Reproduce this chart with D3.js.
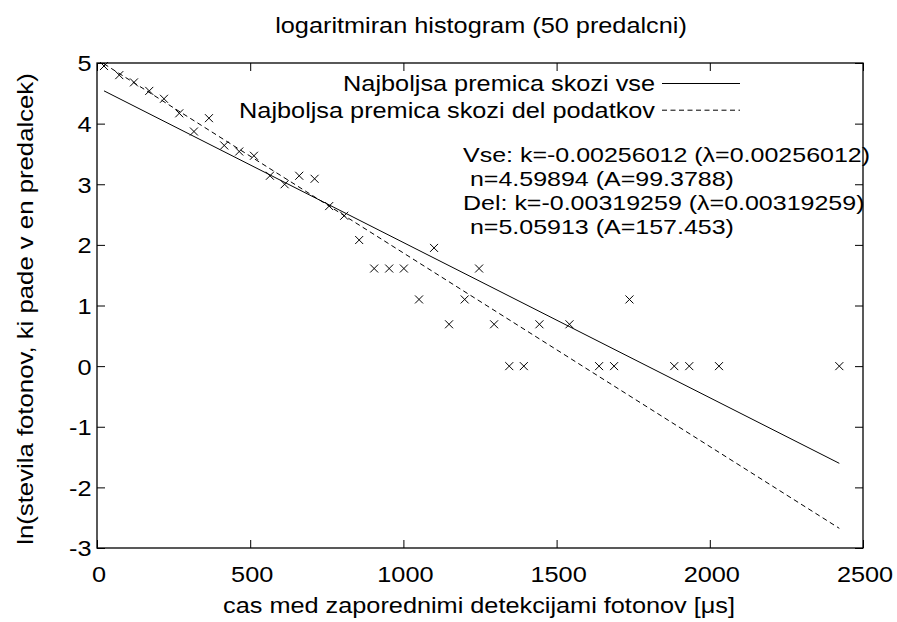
<!DOCTYPE html>
<html><head><meta charset="utf-8">
<script src="https://cdn.jsdelivr.net/npm/d3@7"></script>
<style>
body{margin:0;background:#fff;}
text{font-family:"Liberation Sans",Arial,sans-serif;fill:#000;white-space:pre;}
</style></head>
<body><svg id="c" width="897" height="622"></svg>
<script>
const binCenters = [22.8, 72.7, 120.7, 170.6, 218.6, 268.5, 316.4, 365.4, 415.3, 464.2, 512.2, 564.4, 612.4, 660, 710.2, 757.8, 806.7, 855.7, 904.6, 953.6, 1001.6, 1051, 1100, 1149, 1200, 1247, 1296, 1345.5, 1393, 1444, 1542, 1638.7, 1687.6, 1737.8, 1884, 1933, 2030, 2422.7];
const lnCounts = [4.95, 4.80, 4.68, 4.54, 4.41, 4.17, 3.87, 4.09, 3.64, 3.54, 3.47, 3.14, 3.00, 3.14, 3.09, 2.64, 2.48, 2.08, 1.61, 1.61, 1.61, 1.10, 1.95, 0.69, 1.10, 1.61, 0.69, 0, 0, 0.69, 0.69, 0, 0, 1.10, 0, 0, 0, 0];
const fitNames = ["Najboljsa premica skozi vse", "Najboljsa premica skozi del podatkov"];
const fitK = [-0.00256012, -0.00319259];
const fitN = [4.59894, 5.05913];
const xTicks = [0, 500, 1000, 1500, 2000, 2500];
const yTicks = [-3, -2, -1, 0, 1, 2, 3, 4, 5];
const noteLines = ["Vse: k=-0.00256012 (λ=0.00256012)", " n=4.59894 (A=99.3788)", "Del: k=-0.00319259 (λ=0.00319259)", " n=5.05913 (A=157.453)"];
const titleText = "logaritmiran histogram (50 predalcni)";
const xLabel = "cas med zaporednimi detekcijami fotonov [μs]";
const yLabel = "ln(stevila fotonov, ki pade v en predalcek)";

const FS = 22, SX = 1.15;
const NFS = 21, NSX = 1.19;
const svg = d3.select("#c");
const L = 97, R = 863, T = 63, B = 548;
const x = d3.scaleLinear().domain([0, 2500]).range([L, R]);
const y = d3.scaleLinear().domain([-3, 5]).range([B, T]);

function txt(px, py, str, anchor, fs, sx, rot) {
  return svg.append("text")
    .attr("transform", `translate(${px},${py})` + (rot ? ` rotate(${rot})` : "") + ` scale(${sx},1)`)
    .attr("text-anchor", anchor).attr("font-size", fs).text(str);
}

// axes (ticks inward, mirrored)
const tk = 8;
const fmt = d => String(d);
svg.append("g").attr("transform", `translate(0,${B})`).call(d3.axisBottom(x).tickValues(xTicks).tickSizeInner(-tk).tickSizeOuter(0).tickFormat(fmt))
  .call(g => { g.select(".domain").remove(); g.selectAll("line").attr("stroke", "#000");
    g.selectAll("text").attr("font-size", FS).attr("font-family", "Liberation Sans").attr("y", 0).attr("dy", 0)
      .attr("transform", `translate(1.5,34) scale(${SX},1)`); });
svg.append("g").attr("transform", `translate(0,${T})`).call(d3.axisTop(x).tickValues(xTicks).tickSizeInner(-tk).tickSizeOuter(0).tickFormat(""))
  .call(g => { g.select(".domain").remove(); g.selectAll("line").attr("stroke", "#000"); });
svg.append("g").attr("transform", `translate(${L},0)`).call(d3.axisLeft(y).tickValues(yTicks).tickSizeInner(-tk).tickSizeOuter(0).tickFormat(fmt))
  .call(g => { g.select(".domain").remove(); g.selectAll("line").attr("stroke", "#000");
    g.selectAll("text").attr("font-size", FS).attr("font-family", "Liberation Sans").attr("x", 0).attr("dy", "0.36em")
      .attr("transform", `translate(-5.5,0) scale(${SX},1)`); });
svg.append("g").attr("transform", `translate(${R},0)`).call(d3.axisRight(y).tickValues(yTicks).tickSizeInner(-tk).tickSizeOuter(0).tickFormat(""))
  .call(g => { g.select(".domain").remove(); g.selectAll("line").attr("stroke", "#000"); });

svg.append("rect").attr("x", L).attr("y", T).attr("width", R - L).attr("height", B - T)
  .attr("fill", "none").attr("stroke", "#000").attr("stroke-width", 1.3);

// fit lines
const xmin = d3.min(binCenters), xmax = d3.max(binCenters);
const dashes = [null, "5,3.5"];
fitK.forEach((k, i) => {
  const pts = [xmin, xmax].map(v => [x(v), y(fitN[i] + k * v)]);
  svg.append("path").attr("d", d3.line()(pts)).attr("fill", "none").attr("stroke", "#000")
    .attr("stroke-width", 1).attr("stroke-dasharray", dashes[i]);
});

// points (crosses)
const s = 4;
svg.append("g").selectAll("path").data(binCenters).join("path")
  .attr("d", (d, i) => { const px = x(d), py = y(lnCounts[i]); return `M${px-s},${py-s}L${px+s},${py+s}M${px-s},${py+s}L${px+s},${py-s}`; })
  .attr("stroke", "#000").attr("stroke-width", 1).attr("fill", "none");

// legend
fitNames.forEach((nm, i) => {
  const cy = 83.5 + i * 26.7;
  txt(655, cy + 7.8, nm, "end", FS, SX);
  svg.append("line").attr("x1", 662).attr("x2", 740).attr("y1", cy).attr("y2", cy).attr("stroke", "#000").attr("stroke-width", 1).attr("stroke-dasharray", dashes[i]);
});

// annotation
noteLines.forEach((t, i) => txt(463, 161.7 + i * 24.1, t, "start", NFS, NSX));

// title and labels
txt(481, 33, titleText, "middle", FS, SX);
txt(479, 613, xLabel, "middle", FS, SX);
txt(33, 309, yLabel, "middle", FS, 1.17, -90);
</script></body></html>
